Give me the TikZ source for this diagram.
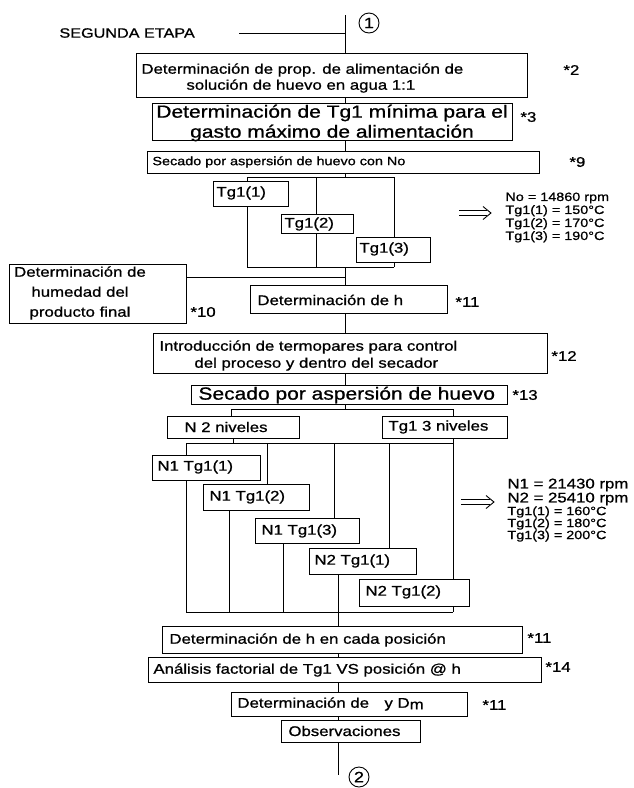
\documentclass[tikz,border=0pt]{standalone}
\usepackage{fontspec}
\setmainfont{Liberation Sans}[FakeStretch=1.2,FakeBold=0.9]
\usetikzlibrary{backgrounds}
\newcommand\fsz[2]{\fontsize{#1}{#2}\selectfont}
% rectangular process box given by its top-left and bottom-right corners
\newcommand\boxnode[5]{\node[box,minimum width={(#4-#2)*1pt},minimum height={(#5-#3)*1pt}] (#1) at (#2,#3) {};}
% double-shafted implication arrow between two named coordinates
\newcommand\impliesarrow[2]{%
  \draw[line width=0.9pt] ([yshift=2.2pt]#1) -- ([xshift=-4pt,yshift=2.2pt]#2);
  \draw[line width=0.9pt] ([yshift=-2.2pt]#1) -- ([xshift=-4pt,yshift=-2.2pt]#2);
  \draw[line width=0.9pt,line join=miter] ([xshift=-8pt,yshift=6.5pt]#2) -- (#2) -- ([xshift=-8pt,yshift=-6.5pt]#2);}
\begin{document}
\begin{tikzpicture}[x=1pt,y=-1pt,line width=0.9pt,
  box/.style={draw,fill=white,inner sep=0pt,anchor=north west},
  lbl/.style={inner sep=0pt,anchor=west,font=\fsz{14}{16}},
  big/.style={inner sep=0pt,font=\fsz{17.5}{20}},
  note/.style={inner sep=0pt,anchor=west,font=\fsz{14}{16}},
  side/.style={inner sep=0pt,anchor=west,align=left,font=\fsz{12}{13}},
  conn/.style={draw,circle,inner sep=0pt,minimum size=20pt,font=\fsz{15}{15}}]
\useasboundingbox (0,0) rectangle (634,788);

% ---------- boxes ----------
\boxnode{b1}{136}{53}{527}{97}
\boxnode{b2}{152}{103}{512}{140}
\boxnode{b3}{147}{151}{539}{173}
\boxnode{ta}{213}{181}{288}{206}
\boxnode{tb}{281}{214}{353}{233}
\boxnode{tc}{356}{237}{430}{262}
\boxnode{bl}{9}{264}{186}{323}
\boxnode{b4}{250}{285}{447}{313}
\boxnode{b5}{153}{333}{547}{373}
\boxnode{b6}{191}{385}{507}{404}
\boxnode{n2}{167}{416}{299}{438}
\boxnode{t3}{382}{416}{507}{438}
\boxnode{m1}{152}{455}{260}{480}
\boxnode{m2}{203}{484}{309}{510}
\boxnode{m3}{255}{518}{359}{543}
\boxnode{m4}{309}{548}{416}{574}
\boxnode{m5}{359}{579}{469}{606}
\boxnode{b7}{162}{626}{522}{653}
\boxnode{b8}{148}{657}{541}{682}
\boxnode{b9}{231}{692}{467}{716}
\boxnode{b10}{281}{720}{420}{742}

% ---------- texts ----------
\node[lbl,font=\fsz{13.5}{16}] (title) at (59,33) {SEGUNDA ETAPA};
\node[conn] (c1) at (369,23) {1};
\node[lbl,align=left] (t1) at (141,78) {Determinación de prop. de alimentación de\\\hspace*{45pt}solución de huevo en agua 1:1};
\node[big,align=center] (t2) at (332,123) {Determinación de Tg1 mínima para el\\gasto máximo de alimentación};
\node[lbl,font=\fsz{12}{14}] (t3t) at (152,162) {Secado por aspersión de huevo con No};
\node[lbl] (tat) at (216,193) {Tg1(1)};
\node[lbl] (tbt) at (284,224) {Tg1(2)};
\node[lbl] (tct) at (359,249) {Tg1(3)};
\node[lbl,anchor=center,align=center,font=\fsz{14}{20}] (blt) at (80,293) {Determinación de\\humedad del\\producto final};
\node[lbl] (t4) at (257,300) {Determinación de h};
\node[lbl,align=left,font=\fsz{14}{17}] (t5) at (159,355.5) {Introducción de termopares para control\\\hspace*{35pt}del proceso y dentro del secador};
\node[big,anchor=west] (t6) at (198,395) {Secado por aspersión de huevo};
\node[lbl] (n2t) at (184,427) {N 2 niveles};
\node[lbl] (t3lt) at (388,427) {Tg1 3 niveles};
\node[lbl] (m1t) at (157,467) {N1 Tg1(1)};
\node[lbl] (m2t) at (209,497) {N1 Tg1(2)};
\node[lbl] (m3t) at (261,531) {N1 Tg1(3)};
\node[lbl] (m4t) at (314,561) {N2 Tg1(1)};
\node[lbl] (m5t) at (365,592) {N2 Tg1(2)};
\node[lbl] (t7) at (169,640) {Determinación de h en cada posición};
\node[lbl] (t8) at (153,670) {Análisis factorial de Tg1 VS posición @ h};
\node[lbl] (t9) at (237,704) {Determinación de\hspace{1.1em}y D\raisebox{-1.5pt}{m}};
\node[lbl] (t10) at (288,731) {Observaciones};
\node[conn] (c2) at (359,777) {2};

% reference marks
\node[note] (s2) at (563,70) {*2};
\node[note] (s3) at (520,117) {*3};
\node[note] (s9) at (569,162) {*9};
\node[note] (s10) at (190,312) {*10};
\node[note] (s11a) at (455,302) {*11};
\node[note] (s12) at (551,356) {*12};
\node[note] (s13) at (512,395) {*13};
\node[note] (s11b) at (527,638) {*11};
\node[note] (s14) at (545,667) {*14};
\node[note] (s11c) at (482,705) {*11};

% side notes with the operating values
\node[side] (v1) at (505,217.5) {No = 14860 rpm\\Tg1(1) = 150°C\\Tg1(2) = 170°C\\Tg1(3) = 190°C};
\node[side,font=\fsz{14}{14}] (v2) at (507,492) {N1 = 21430 rpm\\N2 = 25410 rpm};
\node[side,font=\fsz{12}{12}] (v3) at (507,524) {Tg1(1) = 160°C\\Tg1(2) = 180°C\\Tg1(3) = 200°C};

% ---------- junction points ----------
\coordinate (top1) at (345,15);
\coordinate (seg) at (239,33);
\coordinate (k1a) at (247,177);
\coordinate (k1b) at (316,177);
\coordinate (k1c) at (394,177);
\coordinate (k1d) at (247,267);
\coordinate (k1f) at (394,267);
\coordinate (j1) at (345,277);
\coordinate (k2a) at (231,409);
\coordinate (k2b) at (453,409);
\coordinate (k3n) at (233,443);
\coordinate (u1) at (186,443);
\coordinate (u2) at (267,443);
\coordinate (u3) at (334,443);
\coordinate (u4) at (389,443);
\coordinate (u5) at (453,443);
\coordinate (w1) at (186,612);
\coordinate (w2) at (229,612);
\coordinate (w3) at (283,612);
\coordinate (w4) at (338,612);
\coordinate (w5) at (453,612);
\coordinate (bot) at (338,775);
\coordinate (a1s) at (459,213);
\coordinate (a1e) at (491,213);
\coordinate (a2s) at (461,502);
\coordinate (a2e) at (494,502);

% implication arrows pointing to the side notes
\impliesarrow{a1s}{a1e}
\impliesarrow{a2s}{a2e}

% ---------- connectors (behind the boxes) ----------
\begin{pgfonlayer}{background}
\draw (seg) -- (seg -| top1);
\draw (top1) -- (top1 |- b1.north);
\draw (b1.south -| top1) -- (b2.north -| top1);
\draw (b2.south -| top1) -- (b3.north -| top1);
\draw (b3.south -| top1) -- (top1 |- k1a);
\draw (k1a) -- (k1c);
\draw (k1a) -- (k1d);
\draw (k1b) -- (k1b |- k1d);
\draw (k1c) -- (k1f);
\draw (k1d) -- (k1f);
\draw (top1 |- k1d) -- (b4.north -| top1);
\draw (j1) -- (j1 -| bl.east);
\draw (b4.south -| top1) -- (b5.north -| top1);
\draw (b5.south -| top1) -- (b6.north -| top1);
\draw (b6.south -| top1) -- (top1 |- k2a);
\draw (k2a) -- (k2b);
\draw (k2a) -- (k2a |- n2.north);
\draw (k2b) -- (k2b |- t3.north);
\draw (k3n |- n2.south) -- (k3n);
\draw (u1) -- (u5);
\draw (u1) -- (w1);
\draw (u2) -- (u2 |- m2.north);
\draw (w2 |- m2.south) -- (w2);
\draw (u3) -- (u3 |- m3.north);
\draw (w3 |- m3.south) -- (w3);
\draw (u4) -- (u4 |- m4.north);
\draw (w4 |- m4.south) -- (w4 |- b7.north);
\draw (u5 |- t3.south) -- (w5);
\draw (w1) -- (w5);
\draw (b7.south -| bot) -- (b8.north -| bot);
\draw (b8.south -| bot) -- (b9.north -| bot);
\draw (b9.south -| bot) -- (b10.north -| bot);
\draw (b10.south -| bot) -- (bot);
\end{pgfonlayer}
\end{tikzpicture}
\end{document}
